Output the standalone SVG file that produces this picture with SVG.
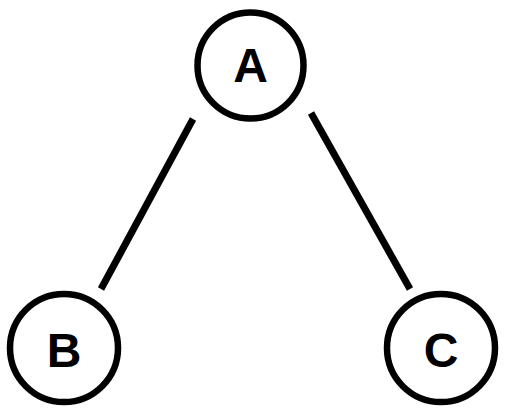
<svg xmlns="http://www.w3.org/2000/svg" width="508" height="416" viewBox="0 0 508 416">
<style>
.n{fill:#fff;stroke:#000;stroke-width:6.5}
.t{font-family:"Liberation Sans",Arial,sans-serif;font-weight:bold;font-size:48px;text-anchor:middle;fill:#000}
.e{stroke:#000;stroke-width:7;fill:none}
</style>
<rect width="508" height="416" fill="#fff"/>
<g id="edges">
<line class="e" x1="193" y1="119" x2="101" y2="289"/>
<line class="e" x1="311" y1="113" x2="410" y2="289"/>
</g>
<g id="A"><circle class="n" cx="250.5" cy="65.5" r="53"/><text class="t" x="250.5" y="82">A</text></g>
<g id="B"><circle class="n" cx="64" cy="348" r="54"/><text class="t" x="64" y="367">B</text></g>
<g id="C"><circle class="n" cx="441" cy="348" r="54"/><text class="t" x="441" y="367">C</text></g>
</svg>
